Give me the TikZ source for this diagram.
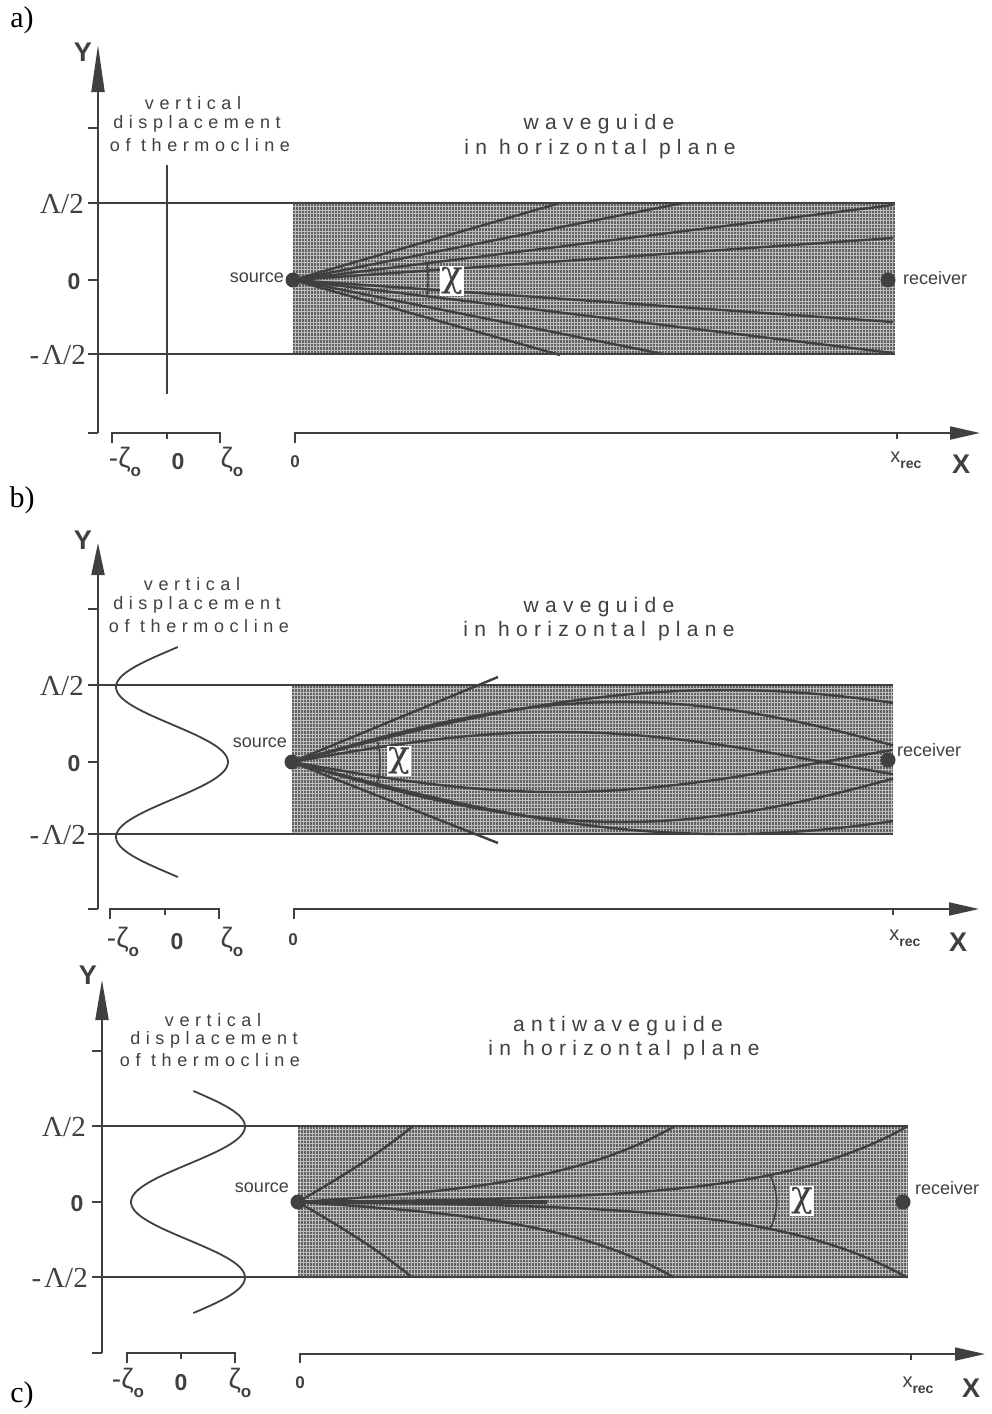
\documentclass[tikz,border=0pt]{standalone}
\usepackage{fontspec}
\setmainfont{Liberation Sans}
\newfontfamily\serifface{Liberation Serif}
\newfontfamily\chiface{DejaVu Serif}
\newfontfamily\spacedA[LetterSpace=31]{Liberation Sans}
\newfontfamily\spacedB[LetterSpace=30]{Liberation Sans}
\usetikzlibrary{arrows.meta}
\definecolor{ink}{gray}{0.25}
\definecolor{hatchc}{gray}{0.38}
\definecolor{hatchbg}{gray}{0.74}
\tikzset{
  axisline/.style={draw=ink, line width=2pt},
  rayline/.style={draw=ink, line width=2.4pt},
  thinray/.style={draw=ink, line width=1.4pt},
  hatchline/.style={draw=hatchc, line width=2.1pt, dash pattern=on 2pt off 1pt},
  yarrow/.style={-{Triangle[length=#1,width=13pt]}},
  xarrow/.style={-{Triangle[length=30pt,width=13pt]}},
  srcdot/.style={circle, fill=ink, minimum size=15pt, inner sep=0pt},
  lbl/.style={text=ink, font=\fontsize{18}{18}\selectfont, inner sep=0pt},
  bigzero/.style={text=ink, font=\fontsize{23}{23}\selectfont\bfseries, inner sep=0pt},
  smallzero/.style={text=ink, font=\fontsize{17}{17}\selectfont\bfseries, inner sep=0pt},
  lamlbl/.style={text=ink, font=\serifface\fontsize{29}{29}\selectfont, inner sep=0pt},
  zetalbl/.style={text=ink, font=\fontsize{28}{28}\selectfont, inner sep=0pt},
  axlbl/.style={text=ink, font=\fontsize{27}{27}\selectfont\bfseries, inner sep=0pt},
  panellbl/.style={text=black, font=\serifface\fontsize{30}{30}\selectfont, inner sep=0pt},
  vtext/.style={text=ink, font=\spacedA\fontsize{18}{18}\selectfont, inner sep=0pt},
  wtext/.style={text=ink, font=\spacedB\fontsize{21}{21}\selectfont, inner sep=0pt},
  chibox/.style={fill=white, inner sep=1.5pt, text=ink, font=\chiface\fontsize{36}{36}\selectfont}
}
\newcommand{\zsub}{\raisebox{-0.32em}{\fontsize{17}{17}\selectfont\bfseries o}}
\newcommand{\xrec}{\fontsize{20}{20}\selectfont x\raisebox{-0.3em}{\fontsize{14}{14}\selectfont\bfseries rec}}
\newcommand{\hatchrect}[4]{%
  \fill[hatchbg] (#1,#2) rectangle (#3,#4);
  \foreach \k in {0,...,42} {
    \draw[hatchline] (#1,{#2+2+3.5*\k}) -- (#3,{#2+2+3.5*\k});
  }
}
\begin{document}
\begin{tikzpicture}[x=1pt,y=-1pt]
\fill[white] (0,0) rectangle (991,1414);
\useasboundingbox (0,0) rectangle (991,1414);

%%%%%%%%%%%%%%%%%%%%%% PANEL A
\node[panellbl] (labA) at (22,20) {a)};
\hatchrect{293}{203}{895}{354}
\draw[axisline] (88,203) -- (895,203);
\draw[axisline] (88,354) -- (895,354);
\draw[axisline, yarrow=47pt] (98,433) -- (98,45);
\draw[axisline] (88,433) -- (98,433);
\draw[axisline] (88,128) -- (98,128);
\draw[axisline] (88,280) -- (98,280);
\draw[axisline] (167,165) -- (167,394);
\draw[axisline] (112,443) -- (112,433) -- (220,433) -- (220,443);
\draw[axisline] (167,433) -- (167,439);
\draw[axisline, xarrow] (295,443) -- (295,433) -- (980,433);
\draw[axisline] (897,433) -- (897,439);
\node[srcdot] (srcA) at (293,280) {};
\node[srcdot] (rcvA) at (888,280) {};
\foreach \ex/\ey in {560/203, 683/203, 893/205, 893/238, 560/355, 663/354, 893/353, 893/322}
  \draw[rayline] (srcA.center) -- (\ex,\ey);
\draw[thinray] (srcA.center) ++(-7.3:135) arc[start angle=-7.3, end angle=7.3, radius=135];
\node[chibox] (chiA) at (452,281) {χ};
\node[lbl, anchor=east] (srcAl) at (284,278) {source};
\node[lbl, anchor=west] (rcvAl) at (903,278) {receiver};
\node[axlbl] (yA) at (83,52) {Y};
\node[lamlbl, anchor=east] (lpA) at (84,204) {Λ/2};
\node[bigzero] (zA) at (74,282) {0};
\node[lamlbl, anchor=east] (lmA) at (86,355) {-\kern3ptΛ/2};
\node[zetalbl] (mzA) at (125,462) {-ζ\zsub};
\node[bigzero] (z0A) at (178,462) {0};
\node[zetalbl] (pzA) at (232,462) {ζ\zsub};
\node[smallzero] (x0A) at (295,462) {0};
\node[text=ink, inner sep=0pt] (xrA) at (906,460) {\xrec};
\node[axlbl] (xA) at (961,464) {X};
\node[vtext] (v1A) at (193,103) {vertical};
\node[vtext] (v2A) at (197,124) {displacement};
\node[vtext] (v3A) at (200,145) {of thermocline};
\node[wtext] (w1A) at (599,124) {waveguide};
\node[wtext] (w2A) at (600,149) {in horizontal plane};

%%%%%%%%%%%%%%%%%%%%%% PANEL B
\node[panellbl] (labB) at (22,500) {b)};
\hatchrect{292}{685}{893}{834}
\draw[axisline] (88,685) -- (893,685);
\draw[axisline] (88,834) -- (893,834);
\draw[axisline, yarrow=32pt] (98,909) -- (98,543);
\draw[axisline] (88,909) -- (98,909);
\draw[axisline] (88,609) -- (98,609);
\draw[axisline] (88,762) -- (98,762);
\draw[axisline] (110,919) -- (110,909) -- (219,909) -- (219,919);
\draw[axisline] (165,909) -- (165,915);
\draw[axisline, xarrow] (294,919) -- (294,909) -- (979,909);
\draw[axisline] (893,909) -- (893,915);
\draw[line width=1.8pt, draw=ink] plot[domain=-115:115, samples=90, smooth] ({172+56*cos(deg(2*pi*\x/150))}, {762+\x});
\node[srcdot] (srcB) at (292,762) {};
\node[srcdot] (rcvB) at (888,760) {};
\draw[rayline] (srcB.center) -- (498,677);
\draw[rayline] (srcB.center) -- (498,843);
\foreach \A/\L in {72/866, 60/660, 30/531} {
  \draw[rayline] plot[domain=292:893, samples=70, smooth] (\x, {762-\A*sin(deg(pi*(\x-292)/\L))});
  \draw[rayline] plot[domain=292:893, samples=70, smooth] (\x, {762+\A*sin(deg(pi*(\x-292)/\L))});
}
\draw[thinray] (srcB.center) ++(-15:88) arc[start angle=-15, end angle=15, radius=88];
\node[chibox] (chiB) at (399,761) {χ};
\node[lbl] (srcBl) at (260,743) {source};
\node[lbl, anchor=west] (rcvBl) at (897,750) {receiver};
\node[axlbl] (yB) at (83,540) {Y};
\node[lamlbl, anchor=east] (lpB) at (84,686) {Λ/2};
\node[bigzero] (zB) at (74,764) {0};
\node[lamlbl, anchor=east] (lmB) at (86,835) {-\kern3ptΛ/2};
\node[zetalbl] (mzB) at (123,942) {-ζ\zsub};
\node[bigzero] (z0B) at (177,942) {0};
\node[zetalbl] (pzB) at (232,942) {ζ\zsub};
\node[smallzero] (x0B) at (293,940) {0};
\node[text=ink, inner sep=0pt] (xrB) at (905,938) {\xrec};
\node[axlbl] (xB) at (958,942) {X};
\node[vtext] (v1B) at (192,584) {vertical};
\node[vtext] (v2B) at (197,605) {displacement};
\node[vtext] (v3B) at (199,626) {of thermocline};
\node[wtext] (w1B) at (599,607) {waveguide};
\node[wtext] (w2B) at (599,631) {in horizontal plane};

%%%%%%%%%%%%%%%%%%%%%% PANEL C
\node[panellbl] (labC) at (22,1395) {c)};
\hatchrect{298}{1126}{908}{1277}
\draw[axisline] (92,1126) -- (908,1126);
\draw[axisline] (92,1277) -- (908,1277);
\draw[axisline, yarrow=40pt] (102,1353) -- (102,980);
\draw[axisline] (92,1353) -- (102,1353);
\draw[axisline] (92,1051) -- (102,1051);
\draw[axisline] (92,1202) -- (102,1202);
\draw[axisline] (127,1363) -- (127,1353) -- (235,1353) -- (235,1363);
\draw[axisline] (181,1353) -- (181,1359);
\draw[axisline, xarrow] (300,1363) -- (300,1354) -- (985,1354);
\draw[axisline] (911,1354) -- (911,1360);
\draw[line width=1.8pt, draw=ink] plot[domain=-111:111, samples=90, smooth] ({188-57*cos(deg(2*pi*\x/151))}, {1202+\x});
\node[srcdot] (srcC) at (298,1202) {};
\node[srcdot] (rcvC) at (903,1202) {};
\foreach \a/\xe in {78/412, 9/674, 1.56/907} {
  \draw[rayline] plot[domain=298:\xe, samples=60, smooth] (\x, {1202-\a*sinh(0.0075*(\x-298))});
  \draw[rayline] plot[domain=298:\xe, samples=60, smooth] (\x, {1202+\a*sinh(0.0075*(\x-298))});
}
\draw[draw=ink, line width=4pt] (srcC.center) -- (547,1202);
\draw[thinray] (770,1175) to[bend left=25] (770,1229);
\node[chibox] (chiC) at (802,1201) {χ};
\node[lbl] (srcCl) at (262,1188) {source};
\node[lbl, anchor=west] (rcvCl) at (915,1188) {receiver};
\node[axlbl] (yC) at (88,975) {Y};
\node[lamlbl, anchor=east] (lpC) at (86,1127) {Λ/2};
\node[bigzero] (zC) at (77,1204) {0};
\node[lamlbl, anchor=east] (lmC) at (88,1278) {-\kern3ptΛ/2};
\node[zetalbl] (mzC) at (128,1383) {-ζ\zsub};
\node[bigzero] (z0C) at (181,1383) {0};
\node[zetalbl] (pzC) at (240,1383) {ζ\zsub};
\node[smallzero] (x0C) at (300,1383) {0};
\node[text=ink, inner sep=0pt] (xrC) at (918,1385) {\xrec};
\node[axlbl] (xC) at (971,1388) {X};
\node[vtext] (v1C) at (213,1020) {vertical};
\node[vtext] (v2C) at (214,1040) {displacement};
\node[vtext] (v3C) at (210,1060) {of thermocline};
\node[wtext] (w1C) at (618,1026) {antiwaveguide};
\node[wtext] (w2C) at (624,1050) {in horizontal plane};
\end{tikzpicture}
\end{document}
